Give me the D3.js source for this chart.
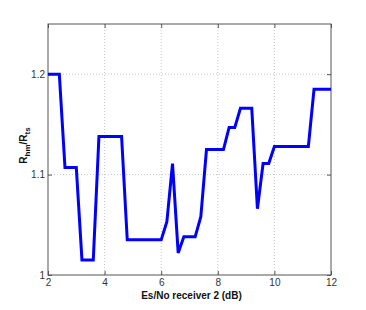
<!DOCTYPE html>
<html>
<head>
<meta charset="utf-8">
<script src="https://cdn.jsdelivr.net/npm/d3@7"></script>
<style>
  body { margin: 0; background: #fff; }
  svg { font-family: "Liberation Sans", Arial, sans-serif; }
  .tick text { fill: #333; font-size: 10px; }
  .axis-label { font-weight: bold; font-size: 10px; fill: #111; }
</style>
</head>
<body>
<div id="chart"></div>
<script>
// Sizes
const WIDTH = 366;
const HEIGHT = 310;
const margin = { top: 24, right: 35, bottom: 35, left: 48 };

// Data: Es/No of receiver 2 (dB) and ratio R_hm / R_ts
const snr = [
  2.0, 2.2, 2.4, 2.6, 2.8, 3.0, 3.2, 3.4, 3.6, 3.8,
  4.0, 4.2, 4.4, 4.6, 4.8, 5.0, 5.2, 5.4, 5.6, 5.8,
  6.0, 6.2, 6.4, 6.6, 6.8, 7.0, 7.2, 7.4, 7.6, 7.8,
  8.0, 8.2, 8.4, 8.6, 8.8, 9.0, 9.2, 9.4, 9.6, 9.8,
  10.0, 10.2, 10.4, 10.6, 10.8, 11.0, 11.2, 11.4, 11.6, 11.8, 12.0
];
const ratio = [
  1.2, 1.2, 1.2, 1.107, 1.107, 1.107, 1.015, 1.015, 1.015, 1.138,
  1.138, 1.138, 1.138, 1.138, 1.035, 1.035, 1.035, 1.035, 1.035, 1.035,
  1.035, 1.053, 1.111, 1.022, 1.038, 1.038, 1.038, 1.058, 1.125, 1.125,
  1.125, 1.125, 1.147, 1.147, 1.166, 1.166, 1.166, 1.066, 1.111, 1.111,
  1.128, 1.128, 1.128, 1.128, 1.128, 1.128, 1.128, 1.185, 1.185, 1.185, 1.185
];
const xTicks = [2, 4, 6, 8, 10, 12];
const yTicks = [1, 1.1, 1.2];

const innerW = WIDTH - margin.left - margin.right;
const innerH = HEIGHT - margin.top - margin.bottom;

var svg = d3
  .select("#chart")
  .append("svg")
  .attr("width", WIDTH)
  .attr("height", HEIGHT);

var g = svg
  .append("g")
  .attr("transform", "translate(" + margin.left + "," + margin.top + ")");

const xScale = d3.scaleLinear().domain([2, 12]).range([0, innerW]);
const yScale = d3.scaleLinear().domain([1, 1.25]).range([innerH, 0]);

// Grid (dotted)
g.append("g")
  .selectAll("line")
  .data(xTicks.slice(1, -1))
  .enter()
  .append("line")
  .attr("x1", (d) => xScale(d))
  .attr("x2", (d) => xScale(d))
  .attr("y1", 0)
  .attr("y2", innerH)
  .attr("stroke", "#c8c8c8")
  .attr("stroke-dasharray", "1,2");

g.append("g")
  .selectAll("line")
  .data(yTicks.slice(1))
  .enter()
  .append("line")
  .attr("x1", 0)
  .attr("x2", innerW)
  .attr("y1", (d) => yScale(d))
  .attr("y2", (d) => yScale(d))
  .attr("stroke", "#c8c8c8")
  .attr("stroke-dasharray", "1,2");

// Axes, ticks pointing inward
const xAxis = d3.axisBottom(xScale).tickValues(xTicks).tickSize(-4).tickPadding(4).tickFormat(d3.format("d"));
const yAxis = d3.axisLeft(yScale).tickValues(yTicks).tickSize(-4).tickPadding(3).tickFormat((d) => (d === 1 ? "1" : d3.format(".1f")(d)));

g.append("g")
  .attr("transform", "translate(0," + innerH + ")")
  .call(xAxis)
  .call((a) => a.select(".domain").remove());

g.append("g")
  .call(yAxis)
  .call((a) => a.select(".domain").remove());

// top ticks and right ticks
g.append("g")
  .call(d3.axisTop(xScale).tickValues(xTicks).tickSize(-4).tickFormat(""))
  .call((a) => a.select(".domain").remove());
g.append("g")
  .attr("transform", "translate(" + innerW + ",0)")
  .call(d3.axisRight(yScale).tickValues(yTicks).tickSize(-4).tickFormat(""))
  .call((a) => a.select(".domain").remove());

g.selectAll(".tick line").attr("stroke", "#555");

// Box
g.append("rect")
  .attr("width", innerW)
  .attr("height", innerH)
  .attr("fill", "none")
  .attr("stroke", "#555")
  .attr("stroke-width", 1);

// Line
const line = d3
  .line()
  .x((d, i) => xScale(snr[i]))
  .y((d) => yScale(d));

g.append("path")
  .datum(ratio)
  .attr("d", line)
  .attr("fill", "none")
  .attr("stroke", "#0000ff")
  .attr("stroke-width", 3)
  .attr("stroke-linejoin", "miter");

// Axis labels
svg
  .append("text")
  .attr("class", "axis-label")
  .attr("x", margin.left + innerW / 2 + 2)
  .attr("y", 299)
  .attr("text-anchor", "middle")
  .text("Es/No receiver 2 (dB)");

var yl = svg
  .append("text")
  .attr("class", "axis-label")
  .attr("transform", "translate(27," + (margin.top + innerH / 2 - 4) + ") rotate(-90)")
  .attr("text-anchor", "middle");
yl.append("tspan").text("R");
yl.append("tspan").attr("dy", 3).attr("font-size", 8).text("hm");
yl.append("tspan").attr("dy", -3).text("/R");
yl.append("tspan").attr("dy", 3).attr("font-size", 8).text("ts");
</script>
</body>
</html>
